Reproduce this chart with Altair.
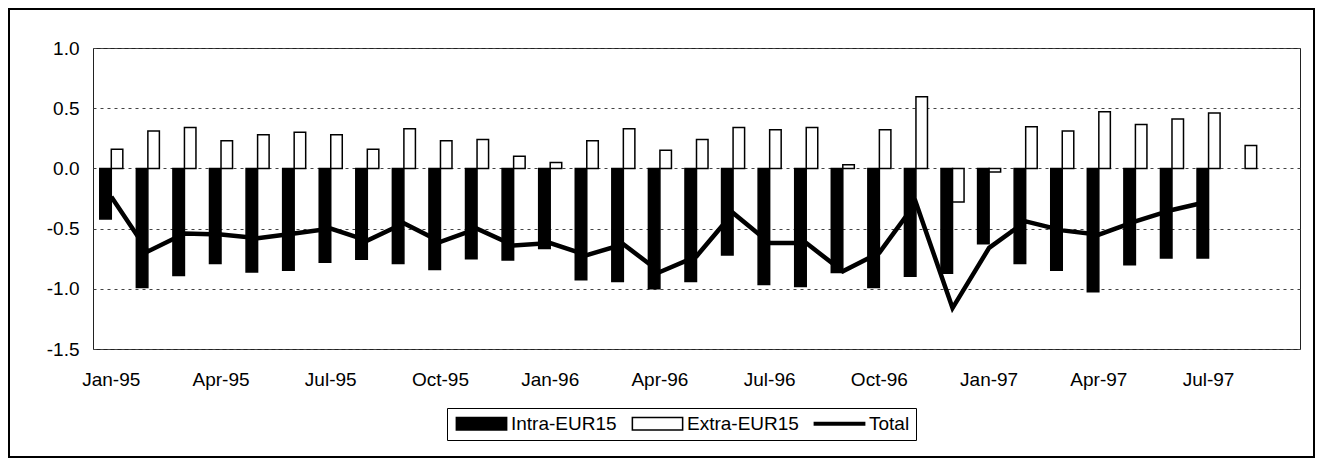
import altair as alt
import pandas as pd

months = ["Jan-95", "Feb-95", "Mar-95", "Apr-95", "May-95", "Jun-95", "Jul-95", "Aug-95",
          "Sep-95", "Oct-95", "Nov-95", "Dec-95", "Jan-96", "Feb-96", "Mar-96", "Apr-96",
          "May-96", "Jun-96", "Jul-96", "Aug-96", "Sep-96", "Oct-96", "Nov-96", "Dec-96",
          "Jan-97", "Feb-97", "Mar-97", "Apr-97", "May-97", "Jun-97", "Jul-97", "Aug-97",
          "Sep-97"]
tick_labels = ["Jan-95", "Apr-95", "Jul-95", "Oct-95", "Jan-96", "Apr-96", "Jul-96",
               "Oct-96", "Jan-97", "Apr-97", "Jul-97"]

intra = [-0.42, -0.99, -0.89, -0.79, -0.86, -0.845, -0.78, -0.755, -0.79, -0.84, -0.75,
         -0.76, -0.665, -0.925, -0.94, -1.00, -0.94, -0.72, -0.965, -0.98, -0.865, -0.99,
         -0.895, -0.87, -0.625, -0.79, -0.845, -1.025, -0.80, -0.745, -0.745]
extra = [0.16, 0.31, 0.34, 0.23, 0.28, 0.30, 0.28, 0.16, 0.33, 0.23, 0.24, 0.10, 0.05,
         0.23, 0.33, 0.15, 0.24, 0.34, 0.32, 0.34, 0.03, 0.32, 0.595, -0.28, -0.03, 0.345,
         0.31, 0.47, 0.365, 0.41, 0.46, 0.19]
total = [-0.235, -0.69, -0.54, -0.55, -0.58, -0.54, -0.50, -0.60, -0.455, -0.61, -0.50,
         -0.64, -0.62, -0.72, -0.63, -0.86, -0.73, -0.37, -0.62, -0.62, -0.855, -0.70,
         -0.285, -1.16, -0.66, -0.44, -0.515, -0.55, -0.44, -0.345, -0.275]

series = ["Intra-EUR15", "Extra-EUR15", "Total"]

bar_rows = []
for m, v in zip(months, intra):
    bar_rows.append({"month": m, "series": series[0], "value": v})
for m, v in zip(months, extra):
    bar_rows.append({"month": m, "series": series[1], "value": v})
bars_df = pd.DataFrame(bar_rows)
line_df = pd.DataFrame({"month": months[:len(total)], "value": total})
# legend key rows (placed outside the y domain and clipped away)
key_df = pd.DataFrame({"month": [months[0]] * 3, "series": series, "value": [5.0] * 3})

FONT = "Liberation Sans"
W, H = 1207, 301

x_enc = alt.X(
    "month:N",
    sort=months,
    scale=alt.Scale(domain=months, paddingInner=0.37, paddingOuter=0.185),
    axis=alt.Axis(title=None, values=tick_labels, ticks=False, domain=False, grid=False,
                  labelAngle=0, labelFont=FONT, labelFontSize=19, labelColor="black",
                  labelPadding=21),
)
y_enc = alt.Y(
    "value:Q",
    scale=alt.Scale(domain=[-1.5, 1.0], nice=False, zero=False),
    axis=alt.Axis(title=None, values=[-1.5, -1.0, -0.5, 0.0, 0.5, 1.0], ticks=False,
                  domain=False, grid=True, gridColor="#444", gridDash=[3, 4],
                  gridWidth=1,
                  labelExpr="datum.value < 0 ? '-' + format(-datum.value, '.1f') : format(datum.value, '.1f')",
                  labelFont=FONT, labelFontSize=19, labelColor="black", labelPadding=14),
)

legend = alt.Legend(
    title=None,
    orient="none",
    legendX=354,
    legendY=360,
    direction="horizontal",
    strokeColor="black",
    padding=6,
    labelFont=FONT,
    labelFontSize=19,
    labelColor="black",
    symbolSize=196,
    symbolOffset=19,
    labelOffset=20,
    columnPadding=11,
    symbolOpacity=1,
)

# legend keys: solid box, hollow box, thick line (all drawn as filled black paths)
color_enc = alt.Color(
    "series:N",
    scale=alt.Scale(domain=series, range=["black", "black", "black"]),
    legend=legend,
)
shape_enc = alt.Shape(
    "series:N",
    scale=alt.Scale(domain=series,
                    range=["M-3.7,-1H3.7V1H-3.7Z",
                           "M-3.7,-1H3.7V1H-3.7ZM-3.48,-0.78V0.78H3.48V-0.78Z",
                           "M-3.7,-0.3H3.7V0.3H-3.7Z"]),
    legend=legend,
)

bars = alt.Chart(bars_df).mark_bar(stroke="black", strokeWidth=1.5).encode(
    x=x_enc,
    xOffset=alt.XOffset("series:N", sort=series[:2],
                        scale=alt.Scale(domain=series[:2], paddingInner=0, paddingOuter=0)),
    y=y_enc,
    fill=alt.condition(alt.datum.series == "Intra-EUR15", alt.value("black"), alt.value("white")),
)

line = alt.Chart(line_df).mark_line(color="black", strokeWidth=4.5, strokeJoin="miter").encode(
    x=x_enc,
    y=y_enc,
)

keys = alt.Chart(key_df).mark_point(filled=True, clip=True, opacity=1).encode(
    x=x_enc,
    y=y_enc,
    color=color_enc,
    shape=shape_enc,
)

frame = alt.Chart(pd.DataFrame({"f": [0]})).mark_rect(
    fillOpacity=0, stroke="black", strokeWidth=2
).encode(
    x=alt.value(-84), x2=alt.value(W + 14), y=alt.value(-39), y2=alt.value(H + 108)
)

chart = alt.layer(bars, line, keys, frame).properties(
    width=W,
    height=H,
    autosize=alt.AutoSizeParams(type="none"),
    padding={"left": 85, "top": 40, "right": 15, "bottom": 109},
    background="white",
).configure_view(stroke="#222", strokeWidth=1)

chart.save("out.html", embed_options={"renderer": "svg", "actions": False})
